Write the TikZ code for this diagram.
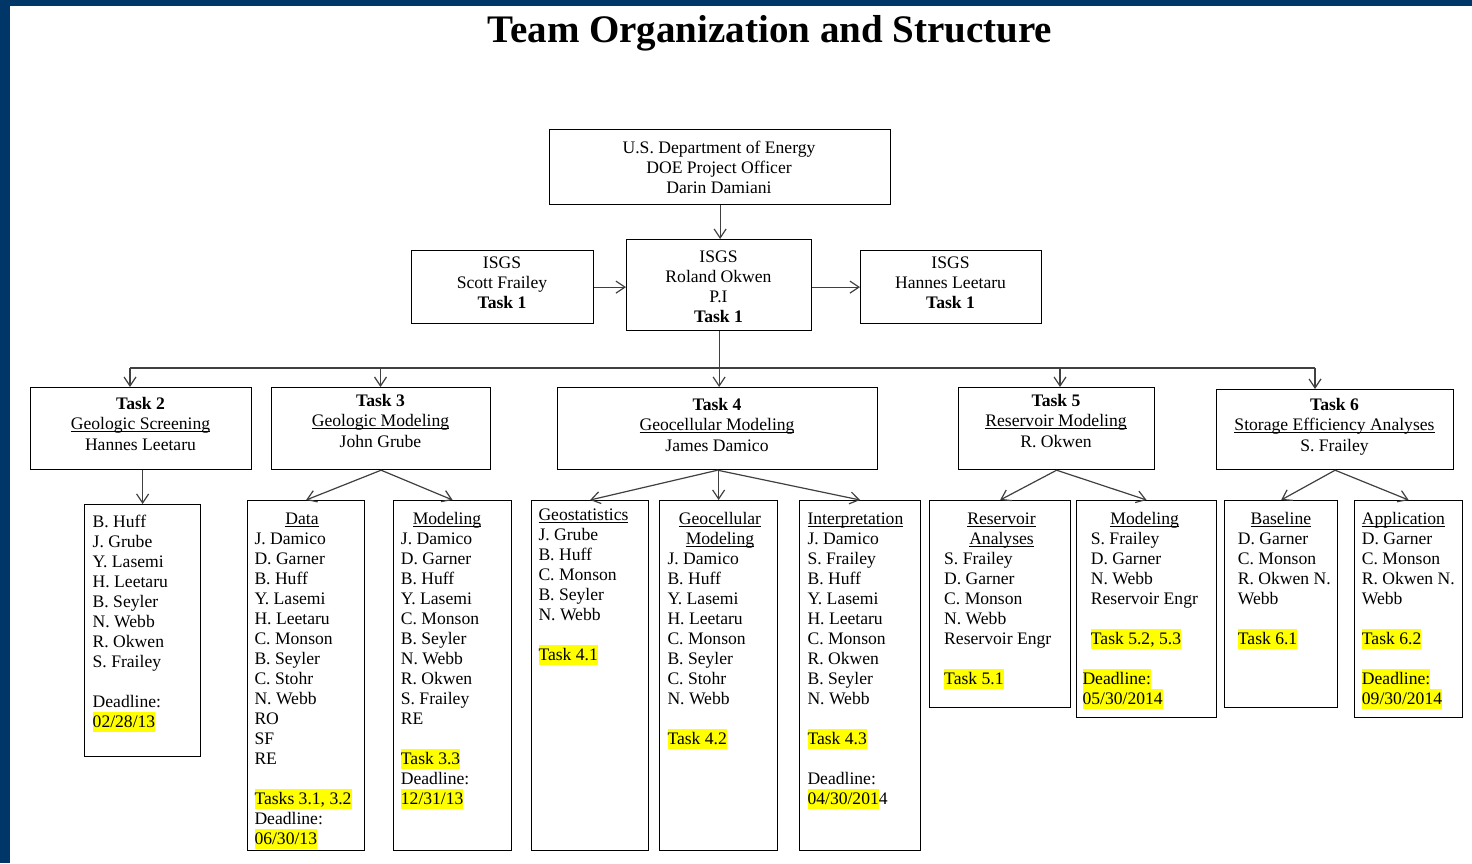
\documentclass[tikz,border=0pt]{standalone}
\usepackage{fontspec}
\setmainfont{Liberation Serif}
\usetikzlibrary{arrows.meta}
\definecolor{navy}{RGB}{0,54,104}
\definecolor{hly}{RGB}{255,255,0}
\definecolor{lnc}{RGB}{64,64,64}
\newcommand\myst{\rule[-5pt]{0pt}{20pt}}
\newcommand\myhl[1]{{\setlength\fboxsep{0pt}\colorbox{hly}{\myst#1}}}
\newcommand\myul[1]{{\setbox0\hbox{#1}\rlap{\rule[-2.4pt]{\wd0}{0.9pt}}\box0}}
\begin{document}
\begin{tikzpicture}[x=1pt,y=-1pt,
  box/.style={draw=black, line width=1.2pt, inner sep=0pt, anchor=north west},
  ctxt/.style={inner sep=0pt, font=\fontsize{17.6}{20}\selectfont, align=center, anchor=north},
  ttxt/.style={inner sep=0pt, font=\fontsize{17.6}{20.5}\selectfont, align=center, anchor=north},
  lst/.style={inner sep=0pt, font=\fontsize{17.6}{20}\selectfont, align=left, anchor=north west},
  hd/.style={inner sep=0pt, font=\fontsize{17.6}{20}\selectfont, anchor=base},
  arr/.style={draw=lnc, line width=1.2pt, -{Straight Barb[length=9pt,width=12pt]}},
  conn/.style={draw=lnc, line width=1.2pt}
]
\useasboundingbox (0,0) rectangle (1472,863);
\fill[white] (0,0) rectangle (1472,863);
\fill[navy] (0,0) rectangle (10,863);
\fill[navy] (0,0) rectangle (1472,6);

% title
\node[inner sep=0pt, anchor=base, font=\fontsize{39}{44}\selectfont\bfseries] (title) at (770,42) {Team Organization and Structure};

% top boxes
\node[box, minimum width=341pt, minimum height=75pt] (doe) at (549,129) {};
\node[box, minimum width=182pt, minimum height=73pt] (sf) at (411,250) {};
\node[box, minimum width=185pt, minimum height=91pt] (pi) at (626,239) {};
\node[box, minimum width=181pt, minimum height=73pt] (hlbox) at (860,250) {};

\node[ctxt] (doetxt) at (719,138) {\myst U.S. Department of Energy\\ DOE Project Officer\\ Darin Damiani};
\node[ctxt] (sftxt) at (502,253) {\myst ISGS\\ Scott Frailey\\ \textbf{Task 1}};
\node[ctxt] (pitxt) at (718.5,247) {\myst ISGS\\ Roland Okwen\\ P.I\\ \textbf{Task 1}};
\node[ctxt] (hltxt) at (950.5,253) {\myst ISGS\\ Hannes Leetaru\\ \textbf{Task 1}};

% task boxes
\node[box, minimum width=221pt, minimum height=82pt] (t2) at (30,387) {};
\node[box, minimum width=219pt, minimum height=82pt] (t3) at (271,387) {};
\node[box, minimum width=320pt, minimum height=82pt] (t4) at (557,387) {};
\node[box, minimum width=196pt, minimum height=82pt] (t5) at (958,387) {};
\node[box, minimum width=237pt, minimum height=80pt] (t6) at (1216,389) {};

\node[ttxt] (t2txt) at (140.5,394) {\myst\textbf{Task 2}\\ \myul{Geologic Screening}\\ Hannes Leetaru};
\node[ttxt] (t3txt) at (380.5,391) {\myst\textbf{Task 3}\\ \myul{Geologic Modeling}\\ John Grube};
\node[ttxt] (t4txt) at (717,395) {\myst\textbf{Task 4}\\ \myul{Geocellular Modeling}\\ James Damico};
\node[ttxt] (t5txt) at (1056,391) {\myst\textbf{Task 5}\\ \myul{Reservoir Modeling}\\ R. Okwen};
\node[ttxt] (t6txt) at (1334.5,395) {\myst\textbf{Task 6}\\ \myul{Storage Efficiency Analyses}\\ S. Frailey};

% sub boxes
\node[box, minimum width=116pt, minimum height=252pt] (s2) at (84,504) {};
\node[box, minimum width=117pt, minimum height=350pt] (data) at (247,500) {};
\node[box, minimum width=118pt, minimum height=350pt] (mod3) at (393,500) {};
\node[box, minimum width=117pt, minimum height=350pt] (geos) at (531,500) {};
\node[box, minimum width=118pt, minimum height=350pt] (geoc) at (659,500) {};
\node[box, minimum width=121pt, minimum height=350pt] (intp) at (799,500) {};
\node[box, minimum width=141pt, minimum height=207pt] (resan) at (929,500) {};
\node[box, minimum width=140pt, minimum height=217pt] (mod5) at (1076,500) {};
\node[box, minimum width=113pt, minimum height=207pt] (base) at (1224,500) {};
\node[box, minimum width=108pt, minimum height=217pt] (appl) at (1354,500) {};

% sub box texts
\node[lst] (s2txt) at (92.5,512) {\myst B. Huff\\ J. Grube\\ Y. Lasemi\\ H. Leetaru\\ B. Seyler\\ N. Webb\\ R. Okwen\\ S. Frailey\\[20pt] Deadline:\\ \myhl{02/28/13}};

\node[hd] (datahd) at (302,524) {\myul{Data}};
\node[lst] (datatxt) at (254.3,529) {\myst J. Damico\\ D. Garner\\ B. Huff\\ Y. Lasemi\\ H. Leetaru\\ C. Monson\\ B. Seyler\\ C. Stohr\\ N. Webb\\ RO\\ SF\\ RE\\[20pt] \myhl{Tasks 3.1, 3.2}\\ Deadline:\\ \myhl{06/30/13}};

\node[hd] (mod3hd) at (447,524) {\myul{Modeling}};
\node[lst] (mod3txt) at (400.7,529) {\myst J. Damico\\ D. Garner\\ B. Huff\\ Y. Lasemi\\ C. Monson\\ B. Seyler\\ N. Webb\\ R. Okwen\\ S. Frailey\\ RE\\[20pt] \myhl{Task 3.3}\\ Deadline:\\ \myhl{12/31/13}};

\node[lst] (geostxt) at (538.3,505) {\myst\myul{Geostatistics}\\ J. Grube\\ B. Huff\\ C. Monson\\ B. Seyler\\ N. Webb\\[20pt] \myhl{Task 4.1}};

\node[ctxt] (geochd) at (720,509) {\myst\myul{Geocellular}\\ \myul{Modeling}};
\node[lst] (geoctxt) at (667.3,549) {\myst J. Damico\\ B. Huff\\ Y. Lasemi\\ H. Leetaru\\ C. Monson\\ B. Seyler\\ C. Stohr\\ N. Webb\\[20pt] \myhl{Task 4.2}};

\node[lst] (intptxt) at (807.3,509) {\myst\myul{Interpretation}\\ J. Damico\\ S. Frailey\\ B. Huff\\ Y. Lasemi\\ H. Leetaru\\ C. Monson\\ R. Okwen\\ B. Seyler\\ N. Webb\\[20pt] \myhl{Task 4.3}\\[20pt] Deadline:\\ \myhl{04/30/201}4};

\node[ctxt] (resanhd) at (1001.5,509) {\myst\myul{Reservoir}\\ \myul{Analyses}};
\node[lst] (resantxt) at (944,549) {\myst S. Frailey\\ D. Garner\\ C. Monson\\ N. Webb\\ Reservoir Engr\\[20pt] \myhl{Task 5.1}};

\node[hd] (mod5hd) at (1144.7,524) {\myul{Modeling}};
\node[lst] (mod5txt) at (1090.7,529) {\myst S. Frailey\\ D. Garner\\ N. Webb\\ Reservoir Engr\\[20pt] \myhl{Task 5.2, 5.3}};
\node[lst] (mod5dl) at (1082.3,669) {\myhl{Deadline:}\\ \myhl{05/30/2014}};

\node[hd] (basehd) at (1280.8,524) {\myul{Baseline}};
\node[lst] (basetxt) at (1237.7,529) {\myst D. Garner\\ C. Monson\\ R. Okwen N.\\ Webb\\[20pt] \myhl{Task 6.1}};

\node[lst] (appltxt) at (1361.7,509) {\myst\myul{Application}\\ D. Garner\\ C. Monson\\ R. Okwen N.\\ Webb\\[20pt] \myhl{Task 6.2}\\[20pt] \myhl{Deadline:}\\ \myhl{09/30/2014}};

% connectors
\draw[arr] (doe.south) -- (doe.south |- pi.north);
\draw[arr] (sf.east) -- (sf.east -| pi.west);
\draw[arr] (hlbox.west -| pi.east) -- (hlbox.west);
\draw[arr] (pi.south) -- (pi.south |- t4.north);
\coordinate (bL) at (130,368);
\coordinate (b3) at (380.5,368);
\coordinate (b5) at (1060,368);
\coordinate (bR) at (1315,368);
\draw[conn] (bL) -- (bR);
\draw[arr] (bL) -- (bL |- t2.north);
\draw[arr] (b3) -- (b3 |- t3.north);
\draw[arr] (b5) -- (b5 |- t5.north);
\draw[arr] (bR) -- (bR |- t6.north);

\draw[arr] (s2.north |- t2.south) -- (s2.north);
\draw[arr] (t3.south) -- (data.north);
\draw[arr] (t3.south) -- (mod3.north);
\draw[arr] (t4.south) -- (geos.north);
\draw[arr] (geoc.north |- t4.south) -- (geoc.north);
\draw[arr] (t4.south) -- (intp.north);
\draw[arr] (t5.south) -- (resan.north);
\draw[arr] (t5.south) -- (mod5.north);
\draw[arr] (t6.south) -- (base.north);
\draw[arr] (t6.south) -- (appl.north);
\end{tikzpicture}
\end{document}
